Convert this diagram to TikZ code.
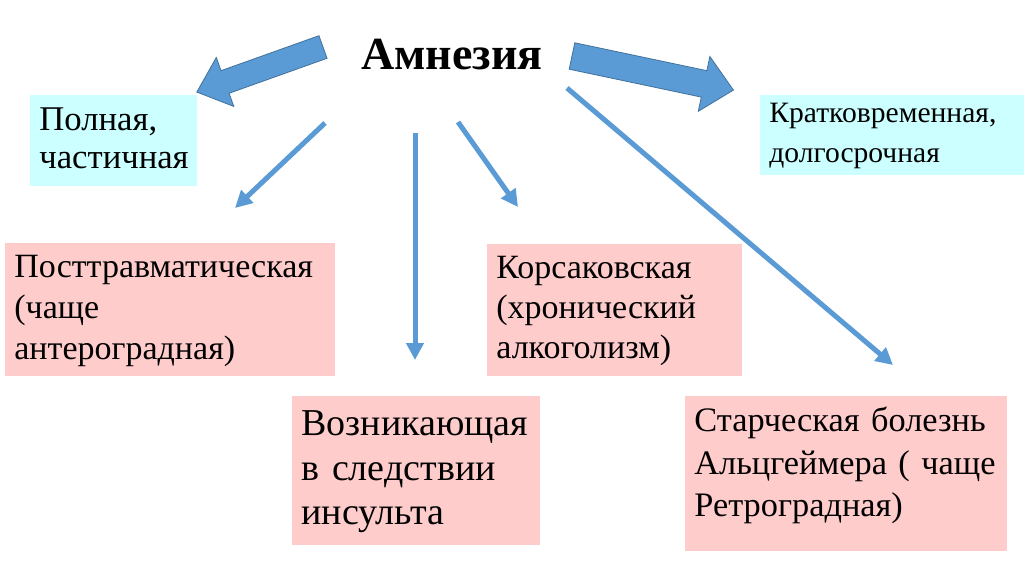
\documentclass[tikz,border=0pt]{standalone}
\usepackage{fontspec}
\usepackage{graphicx}
\setmainfont{Liberation Serif}
\usetikzlibrary{arrows.meta}

\definecolor{boxpink}{HTML}{FFCCCC}
\definecolor{boxcyan}{HTML}{CCFFFF}
\definecolor{arrowblue}{HTML}{5B9BD5}
\definecolor{arrowedge}{HTML}{41719C}

% one text size for all boxes, scaled per box
\newcommand\boxlines[2]{\scalebox{#1}{\begin{tabular}{@{}l@{}}#2\end{tabular}}}

\tikzset{
  textbox/.style={anchor=north west,inner xsep=4.5pt,inner ysep=0pt,align=left,
    font=\fontsize{17}{20.5}\selectfont},
  pinkbox/.style={textbox,fill=boxpink},
  cyanbox/.style={textbox,fill=boxcyan},
  thinarrow/.style={draw=arrowblue,line width=2.5pt,-{Triangle[length=8.5pt,width=8.5pt]}},
  blockarrow/.style={fill=arrowblue,draw=arrowedge,line width=0.4pt,line join=miter}
}

\begin{document}
\begin{tikzpicture}[x=0.5pt,y=-0.5pt]
  \useasboundingbox[fill=white] (0,0) rectangle (1024,574);

  \node[font=\fontsize{23}{25}\selectfont\bfseries] (title) at (452,55) {Амнезия};

  \node[cyanbox,text width=74.5pt,minimum height=45.5pt]
    (full) at (30,95) {\boxlines{1.02}{Полная,\\[-1.9pt]частичная}};
  \node[cyanbox,text width=123pt,minimum height=40pt]
    (shortlong) at (760,95) {\boxlines{0.87}{Кратковременная,\\[2pt]долгосрочная}};

  \node[pinkbox,text width=156pt,minimum height=66.5pt]
    (posttrauma) at (5,243) {\boxlines{1.0}{Посттравматическая\\(чаще\\антероградная)}};
  \node[pinkbox,text width=118.5pt,minimum height=66pt]
    (korsakov) at (487,244) {\boxlines{1.0}{Корсаковская\\[-0.5pt](хронический\\[-0.5pt]алкоголизм)}};
  \node[pinkbox,text width=115pt,minimum height=74.5pt]
    (stroke) at (292,396) {\boxlines{1.118}{Возникающая\\[-0.6pt]в следствии\\[-0.6pt]инсульта}};
  \node[pinkbox,text width=152pt,minimum height=77.5pt]
    (alzheimer) at (685,396) {\raisebox{0pt}[\height][\dimexpr\depth+8pt\relax]{%
      \boxlines{1.01}{Старческая болезнь\\[0.5pt]Альцгеймера ( чаще\\[0.5pt]Ретроградная)}}};

  % block arrows
  \begin{scope}[shift={(323,47)},rotate=199.65]
    \draw[blockarrow] (0,-12) -- (104,-12) -- (104,-26) -- (134,0)
      -- (104,26) -- (104,12) -- (0,12) -- cycle;
  \end{scope}
  \begin{scope}[shift={(572,56)},rotate=-11.92]
    \draw[blockarrow] (0,-13.5) -- (135,-13.5) -- (135,-28) -- (165,0)
      -- (135,28) -- (135,13.5) -- (0,13.5) -- cycle;
  \end{scope}

  % thin arrows
  \coordinate (s1) at (325,123);
  \coordinate (e1) at (235,208);
  \coordinate (s2) at (415,133);
  \coordinate (e2) at (415,360);
  \coordinate (s3) at (458,122);
  \coordinate (e3) at (518,207);
  \coordinate (s4) at (567,88);
  \coordinate (e4) at (893,365);
  \draw[thinarrow] (s1) -- (e1);
  \draw[thinarrow] (s2) -- (e2);
  \draw[thinarrow] (s3) -- (e3);
  \draw[thinarrow] (s4) -- (e4);
\end{tikzpicture}
\end{document}
